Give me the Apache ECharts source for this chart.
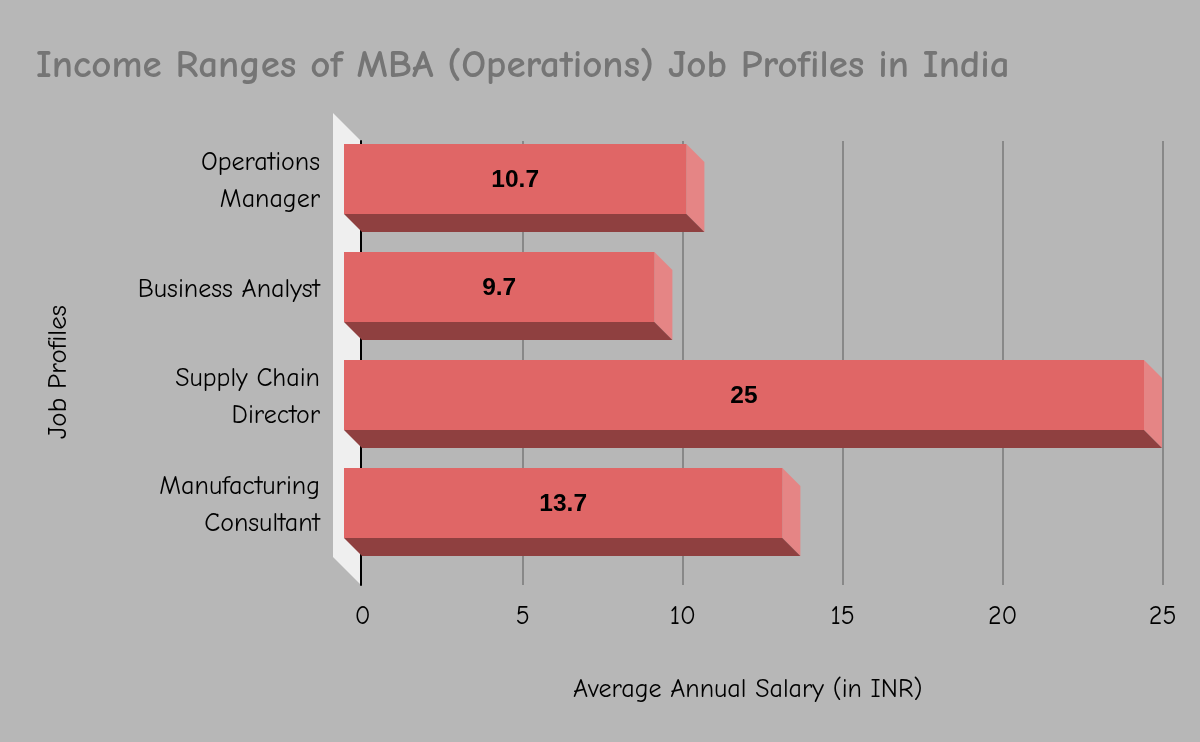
<!DOCTYPE html>
<html><head><meta charset="utf-8">
<style>html,body{margin:0;padding:0;background:#b7b7b7}#c{width:1200px;height:742px}</style>
<script src="https://cdn.jsdelivr.net/npm/echarts@6/dist/echarts.min.js"></script>
</head><body><div id="c"></div>
<script>
const categories = ['Operations\nManager','Business Analyst','Supply Chain\nDirector','Manufacturing\nConsultant'];
const salaries = [10.7, 9.7, 25, 13.7];
const valueTicks = [0, 5, 10, 15, 20, 25];
const titleText = 'Income Ranges of MBA (Operations) Job Profiles in India';
const xName = 'Average Annual Salary (in INR)';
const yName = 'Job Profiles';

const FONT = '"Comic Sans MS","Comic Neue",cursive';
const DEPTH = 18, BAR_H = 70, BAR_SHIFT = -2.5;

const chart = echarts.init(document.getElementById('c'), null, {renderer:'canvas'});
chart.setOption({
  backgroundColor:'#b7b7b7',
  animation:false,
  title:{text:titleText,left:31,top:41,textStyle:{fontFamily:FONT,fontSize:39,fontWeight:'bold',color:'#757575'}},
  grid:[
    {left:362.7,top:141,width:800,height:444},
    {left:344,top:127.5,width:800,height:432}
  ],
  xAxis:[
    {gridIndex:0,type:'value',min:0,max:25,interval:5,
     axisLine:{show:false},axisTick:{show:false},
     axisLabel:{fontFamily:FONT,fontSize:26,color:'#000',margin:19,
       formatter:v=>valueTicks.includes(v)?String(v):''},
     splitLine:{show:true,showMinLine:false,lineStyle:{color:'#888888',width:2}},
     name:xName,nameLocation:'middle',nameGap:92,
     nameTextStyle:{fontFamily:FONT,fontSize:26,color:'#000',padding:[0,30,0,0]}},
    {gridIndex:1,type:'value',min:0,max:25,interval:5,show:false}
  ],
  yAxis:[
    {gridIndex:0,type:'value',min:0,max:1,offset:1.7,z:3,
     axisLine:{show:true,onZero:false,lineStyle:{color:'#000',width:2}},
     axisTick:{show:false},axisLabel:{show:false},splitLine:{show:false}},
    {gridIndex:1,type:'category',inverse:true,data:categories,
     axisLine:{show:false},axisTick:{show:false},splitLine:{show:false},
     axisLabel:{fontFamily:FONT,fontSize:26,color:'#000',margin:24,lineHeight:37,align:'right'},
     name:yName,nameLocation:'middle',nameGap:272,
     nameTextStyle:{fontFamily:FONT,fontSize:27,color:'#000',padding:[0,57,0,0]}}
  ],
  series:[
    {type:'custom',xAxisIndex:1,yAxisIndex:1,data:[[0,0]],silent:true,z:1,
     renderItem(params,api){
       const r=params.coordSys, ry=r.y+BAR_SHIFT;
       return {type:'polygon',shape:{points:[
         [r.x-11,ry-12],[r.x+17,ry+16],[r.x+17,ry+460],[r.x-11,ry+432]
       ]},style:{fill:'#efefef'}};
     }},
    {type:'custom',xAxisIndex:1,yAxisIndex:1,silent:true,z:5,
     data:salaries.map((v,i)=>[v,i]),
     encode:{x:0,y:1},
     renderItem(params,api){
       const p=api.coord([api.value(0),api.value(1)]);
       const x0=api.coord([0,api.value(1)])[0], x1=p[0], cy=p[1]+BAR_SHIFT;
       const y0=cy-BAR_H/2, y1=cy+BAR_H/2, d=DEPTH;
       return {type:'group',children:[
         {type:'polygon',shape:{points:[[x1,y0],[x1+d,y0+d],[x1+d,y1+d],[x1,y1]]},style:{fill:'#e58585'}},
         {type:'polygon',shape:{points:[[x0,y1],[x1,y1],[x1+d,y1+d],[x0+d,y1+d]]},style:{fill:'#8f4040'}},
         {type:'rect',shape:{x:x0,y:y0,width:x1-x0,height:BAR_H},style:{fill:'#e06666'}},
         {type:'text',x:(x0+x1)/2,y:cy+1,style:{text:String(api.value(0)),
           align:'center',verticalAlign:'middle',
           fontFamily:'"Liberation Sans",Arial,sans-serif',fontWeight:'bold',fontSize:24.5,fill:'#000'}}
       ]};
     }}
  ]
});
</script></body></html>
